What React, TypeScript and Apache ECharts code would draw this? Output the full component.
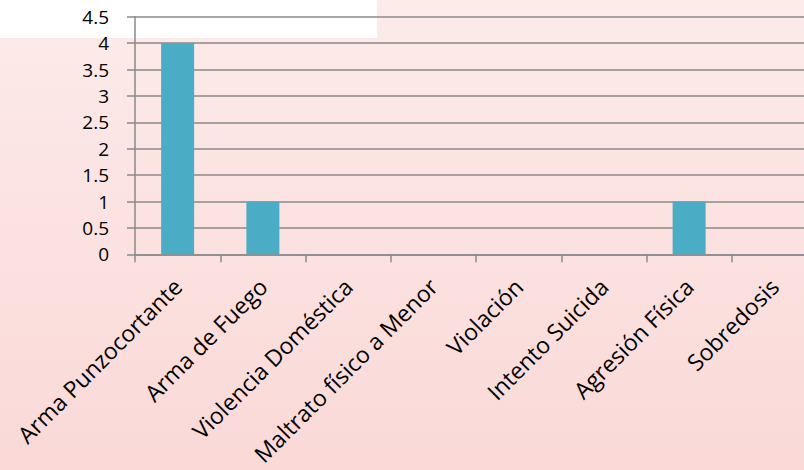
import React, { useEffect, useRef } from "react";
import * as echarts from "echarts";

const categories = [
  "Arma Punzocortante",
  "Arma de Fuego",
  "Violencia Doméstica",
  "Maltrato físico a Menor",
  "Violación",
  "Intento Suicida",
  "Agresión Física",
  "Sobredosis",
];
const values = [4, 1, 0, 0, 0, 0, 1, 0];
const yMin = 0;
const yMax = 4.5;
const yStep = 0.5;

export default function App() {
  const ref = useRef<HTMLDivElement>(null);
  useEffect(() => {
    document.body.style.margin = "0";
    const chart = echarts.init(ref.current!, null, { renderer: "svg" });
    chart.setOption({
      animation: false,
      backgroundColor: "transparent",
      textStyle: { fontFamily: "Open Sans" },
      graphic: [
        {
          type: "rect",
          z: -10,
          silent: true,
          shape: { x: 0, y: 0, width: 377, height: 38 },
          style: { fill: "#ffffff" },
        },
      ],
      grid: {
        left: 135,
        top: 16.7,
        width: 682,
        height: 237.6,
        containLabel: false,
        outerBoundsMode: "none",
      },
      xAxis: {
        type: "category",
        data: categories,
        boundaryGap: true,
        axisLine: { show: true, lineStyle: { color: "#8a8a8a", width: 1.5 } },
        axisTick: { show: true, length: 8, alignWithLabel: false, lineStyle: { color: "#8a8a8a", width: 1.5 } },
        axisLabel: {
          rotate: 45,
          margin: 28,
          interval: 0,
          color: "#000",
          fontSize: 23,
          fontFamily: "Open Sans",
        },
      },
      yAxis: {
        type: "value",
        min: yMin,
        max: yMax,
        interval: yStep,
        axisLine: { show: true, lineStyle: { color: "#8a8a8a", width: 1.5 } },
        axisTick: { show: true, length: 8, lineStyle: { color: "#8a8a8a", width: 1.5 } },
        splitLine: { show: true, lineStyle: { color: "#8a8a8a", width: 1.5 } },
        axisLabel: {
          color: "#000",
          fontSize: 19,
          margin: 26,
          fontFamily: "Open Sans",
        },
      },
      series: [
        {
          type: "bar",
          data: values,
          barWidth: 33,
          itemStyle: { color: "#4BACC6" },
        },
      ],
    });
    return () => chart.dispose();
  }, []);
  return (
    <div
      ref={ref}
      style={{
        width: 804,
        height: 470,
        background: "linear-gradient(to bottom, #fcebea, #fad9d7)",
      }}
    />
  );
}
